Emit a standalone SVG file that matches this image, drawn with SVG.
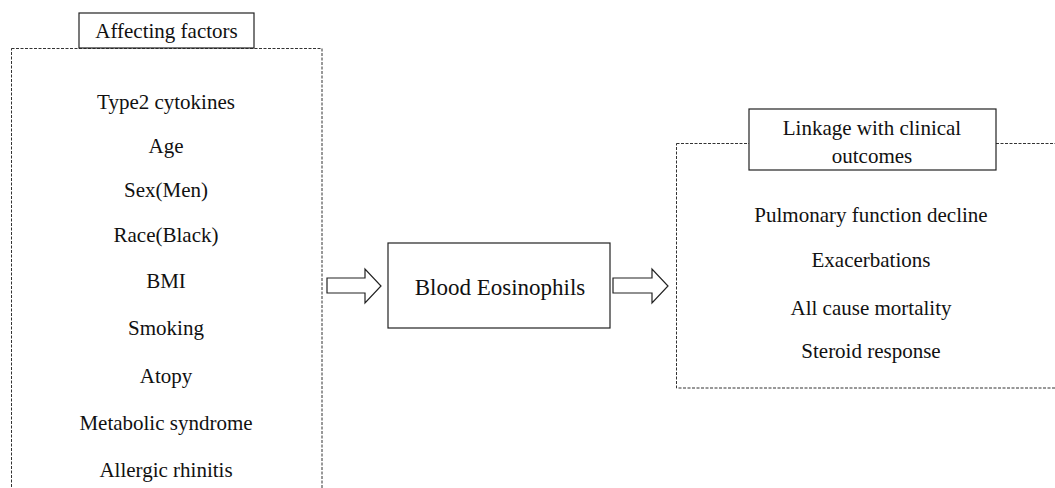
<svg xmlns="http://www.w3.org/2000/svg" width="1055" height="488" viewBox="0 0 1055 488">
<style>
.t{font-family:"Liberation Serif","Times New Roman",serif;font-size:21px;fill:#111;text-anchor:middle}
.big{font-size:23px}
.dash{fill:#fff;stroke:#333;stroke-width:1;stroke-dasharray:3 1.5}
.box{fill:#fff;stroke:#222;stroke-width:1.2}
.arrow{fill:#fff;stroke:#222;stroke-width:1.2;stroke-linejoin:miter}
</style>
<rect width="1055" height="488" fill="#fff"/>
<g id="affecting-factors">
<rect class="dash" x="11.5" y="48.5" width="310.5" height="460"/>
<rect class="box" x="79" y="13" width="175" height="35"/>
<text class="t" x="166.5" y="38">Affecting factors</text>
<text class="t" x="166" y="109">Type2 cytokines</text>
<text class="t" x="166" y="153">Age</text>
<text class="t" x="166" y="197">Sex(Men)</text>
<text class="t" x="166" y="242">Race(Black)</text>
<text class="t" x="166" y="288">BMI</text>
<text class="t" x="166" y="335">Smoking</text>
<text class="t" x="166" y="383">Atopy</text>
<text class="t" x="166" y="430">Metabolic syndrome</text>
<text class="t" x="166" y="477">Allergic rhinitis</text>
</g>
<g id="blood-eosinophils">
<rect class="box" x="388" y="243" width="222" height="85"/>
<text class="t big" x="500" y="295">Blood Eosinophils</text>
</g>
<g id="clinical-outcomes">
<rect class="dash" x="676.5" y="143.5" width="400" height="244.5"/>
<rect class="box" x="749" y="109" width="247" height="61"/>
<text class="t" x="872" y="135">Linkage with clinical</text>
<text class="t" x="872" y="163">outcomes</text>
<text class="t" x="871" y="222">Pulmonary function decline</text>
<text class="t" x="871" y="267">Exacerbations</text>
<text class="t" x="871" y="315">All cause mortality</text>
<text class="t" x="871" y="358">Steroid response</text>
</g>
<g id="connectors">
<path class="arrow" d="M327,278 L365,278 L365,269 L381,286 L365,303 L365,293 L327,293 Z"/>
<path class="arrow" d="M613,278 L652,278 L652,269 L668,286 L652,303 L652,293 L613,293 Z"/>
</g>
</svg>
